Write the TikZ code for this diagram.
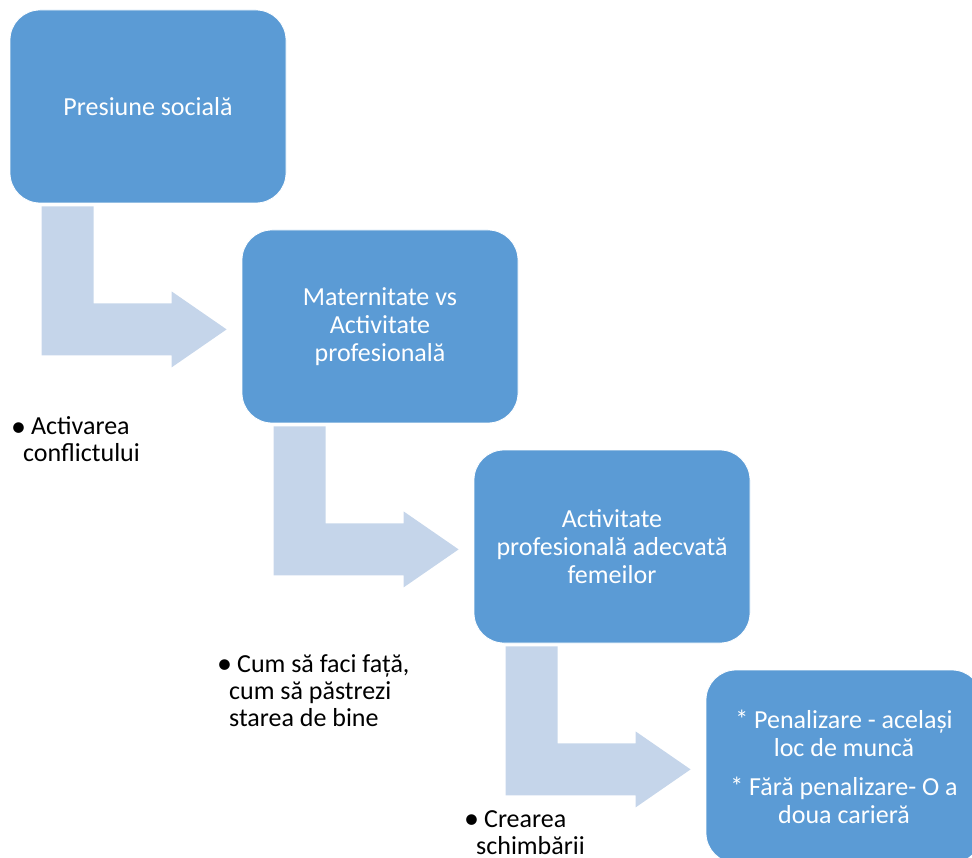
\documentclass[tikz,border=0pt]{standalone}
\usepackage{fontspec}
\setmainfont{Carlito}
\definecolor{stageblue}{HTML}{5B9BD5}
\definecolor{arrowblue}{HTML}{C5D5EA}
\newcommand\notebullet{\raisebox{-1.5pt}{\fontsize{30}{27}\selectfont •}\hspace{5pt}}

\begin{document}
\begin{tikzpicture}
    [x=1pt, y=-1pt,
    stage/.style={fill=stageblue, draw=white, line width=0.8pt, rounded corners=30pt,
        minimum width=276pt, minimum height=193pt, align=center, text=white,
        font=\fontsize{26}{28}\selectfont},
    note/.style={anchor=west, inner sep=0pt, align=left, font=\fontsize{26}{27}\selectfont},
    bentarrow/.pic={\fill[arrowblue] (0,0) -- (52,0) -- (52,97) -- (130,97) -- (130,85)
        -- (185,123) -- (130,161) -- (130,149) -- (0,149) -- cycle;}]
    \useasboundingbox (0,0) rectangle (972,858);
    \clip (0,0) rectangle (972,858);
    % stages
    \node[stage] (social) at (148,106.5) {Presiune socială};
    \node[stage] (mat) at ([shift={(232,220)}]social.center) {Maternitate vs\\ Activitate\\ profesională};
    \node[stage] (adecv) at ([shift={(232,220)}]mat.center) {Activitate\\ profesională adecvată\\ femeilor};
    \node[stage] (penal) at ([shift={(232,220)}]adecv.center) {* Penalizare - același\\ loc de muncă\\[11pt] * Fără penalizare- O a\\ doua carieră};
    % arrows between stages
    \pic at ([shift={(32,3)}]social.south west) {bentarrow};
    \pic at ([shift={(32,3)}]mat.south west) {bentarrow};
    \pic at ([shift={(32,3)}]adecv.south west) {bentarrow};
    % notes
    \node[note] (conflict) at (11,439.5) {\notebullet Activarea\\\hspace*{12pt}conflictului};
    \node[note] (bine) at (217,690.5) {\notebullet Cum să faci față,\\\hspace*{12pt}cum să păstrezi\\\hspace*{12pt}starea de bine};
    \node[note] (schimb) at (464,832.5) {\notebullet Crearea\\\hspace*{12pt}schimbării};
\end{tikzpicture}
\end{document}
